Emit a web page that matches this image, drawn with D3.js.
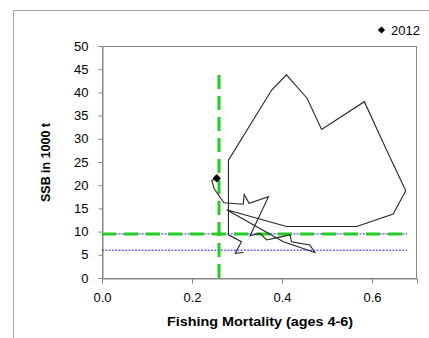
<!DOCTYPE html>
<html><head><meta charset="utf-8">
<script src="https://cdn.jsdelivr.net/npm/d3@7"></script>
<style>body{margin:0;background:#fff}svg{display:block}text{font-family:"Liberation Sans",Arial,sans-serif}</style>
</head><body><svg id="c" width="429" height="338"></svg>
<script>
const years = d3.range(1979, 2013);
const fishingMortality = [0.314,0.296,0.301,0.310,0.281,0.281,0.377,0.410,0.456,0.488,0.583,0.629,0.675,0.647,0.566,0.410,0.277,0.403,0.473,0.462,0.421,0.418,0.384,0.366,0.351,0.329,0.370,0.327,0.316,0.314,0.271,0.249,0.244,0.255];
const ssb = [5.5,5.3,6.2,7.8,9.3,25.4,40.5,43.8,38.7,32.0,38.0,28.3,18.8,13.8,11.1,11.1,14.7,7.8,5.5,7.1,7.8,9.3,8.6,8.2,9.6,9.1,17.5,16.1,18.0,15.9,16.2,19.3,21.0,21.5];
const xTicks = [0, 0.2, 0.4, 0.6];
const yTicks = [0,5,10,15,20,25,30,35,40,45,50];
const Fpa = 0.26, Bpa = 9.5, Blim = 6.0;
const refEndF = 0.678, refEndB = 44;
const lastLabel = "2012";

const svg = d3.select("#c");
const m = {l:102, t:46, r:417, b:278};
const x = d3.scaleLinear().domain([0,0.7]).range([m.l,m.r]);
const y = d3.scaleLinear().domain([0,50]).range([m.b,m.t]);

// outer frame
svg.append("path").attr("d",`M13.5,338 V10.5 H429`).attr("fill","none").attr("stroke","#a6a6a6");

// plot border
svg.append("rect").attr("x",m.l+0.5).attr("y",m.t+0.5).attr("width",m.r-m.l-1).attr("height",m.b-m.t)
  .attr("fill","none").attr("stroke","#868686");

// axes
const xa = svg.append("g").attr("transform",`translate(0,${m.b+0.5})`)
  .call(d3.axisBottom(x).tickValues(xTicks).tickFormat(d3.format(".1f")).tickSize(5).tickPadding(9));
const ya = svg.append("g").attr("transform",`translate(${m.l+0.5},0)`)
  .call(d3.axisLeft(y).tickValues(yTicks).tickFormat(d3.format("d")).tickSize(4).tickPadding(10));
[xa,ya].forEach(g=>{
  g.select(".domain").attr("stroke","#868686");
  g.selectAll(".tick line").attr("stroke","#868686");
  g.selectAll("text").attr("font-size",13).attr("fill","#000").attr("font-family","Liberation Sans, Arial, sans-serif");
});

// reference lines
svg.append("line").attr("x1",x(0)).attr("x2",x(refEndF)).attr("y1",y(Blim)).attr("y2",y(Blim))
  .attr("stroke","#2222ee").attr("stroke-width",1).attr("stroke-dasharray","2,1.3");
svg.append("line").attr("x1",x(0)).attr("x2",x(refEndF)).attr("y1",y(Bpa)).attr("y2",y(Bpa))
  .attr("stroke","#2222ee").attr("stroke-width",1).attr("stroke-dasharray","2,1.3");
svg.append("line").attr("x1",x(0)).attr("x2",x(refEndF)).attr("y1",y(Bpa)).attr("y2",y(Bpa))
  .attr("stroke","#22cc22").attr("stroke-width",3).attr("stroke-dasharray","14,8");
svg.append("line").attr("x1",x(Fpa)).attr("x2",x(Fpa)).attr("y1",y(0)).attr("y2",y(refEndB))
  .attr("stroke","#22cc22").attr("stroke-width",3).attr("stroke-dasharray","14,7");

// trajectory
const pts = years.map((yr,i)=>({yr,f:fishingMortality[i],b:ssb[i]}));
svg.append("path").datum(pts)
  .attr("d",d3.line().x(d=>x(d.f)).y(d=>y(d.b)))
  .attr("fill","none").attr("stroke","#262626").attr("stroke-width",1.1);
const last = pts[pts.length-1];
const diamond = s => `M0,${-s}L${s},0L0,${s}L${-s},0Z`;
svg.append("path").attr("d",diamond(4.2)).attr("transform",`translate(${x(last.f)},${y(last.b)})`).attr("fill","#000");

// legend
svg.append("path").attr("d",diamond(3.6)).attr("transform","translate(381.5,30)").attr("fill","#000");
svg.append("text").attr("x",391).attr("y",35).attr("font-size",13).text(lastLabel);

// titles
svg.append("text").attr("x",260).attr("y",326).attr("text-anchor","middle").attr("font-size",13).attr("font-weight","bold")
  .attr("textLength",186).attr("lengthAdjust","spacingAndGlyphs").text("Fishing Mortality (ages 4-6)");
svg.append("text").attr("transform","translate(50,162.5) rotate(-90)").attr("text-anchor","middle").attr("font-size",12.5).attr("font-weight","bold")
  .attr("textLength",79).attr("lengthAdjust","spacingAndGlyphs").text("SSB in 1000 t");
</script></body></html>
